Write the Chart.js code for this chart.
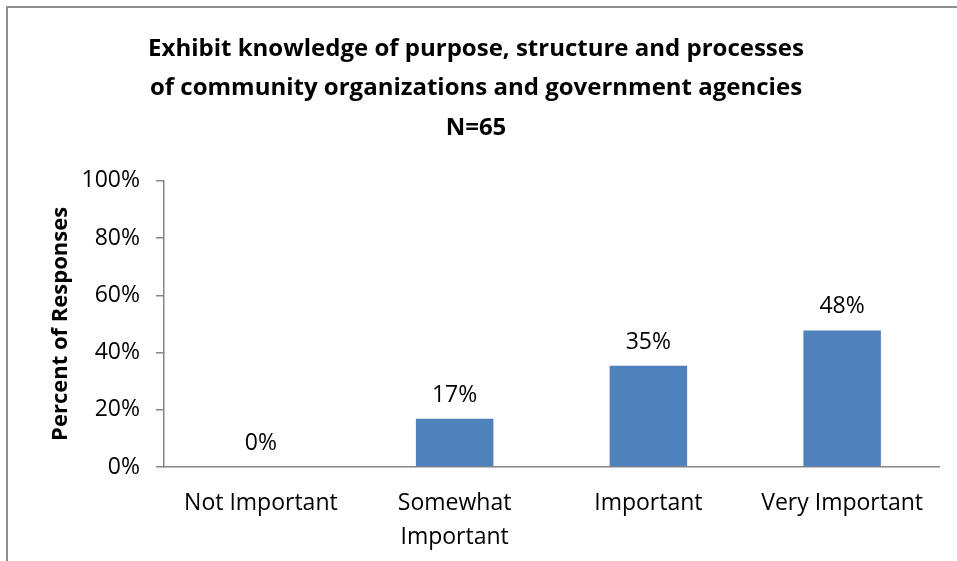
<!DOCTYPE html>
<html>
<head>
<meta charset="utf-8">
<script src="https://cdn.jsdelivr.net/npm/chart.js@4/dist/chart.umd.min.js"></script>
<style>
  html, body { margin: 0; padding: 0; background: #fff; overflow: hidden; }
  #wrap { position: relative; width: 957px; height: 561px; }
  #frame {
    position: absolute; left: 6px; top: 6px; width: 1000px; height: 600px;
    border: 2px solid #8e8e8e; box-sizing: border-box;
  }
  #grafico { position: absolute; left: 0; top: 0; }
</style>
</head>
<body>
<div id="wrap">
  <div id="frame"></div>
  <canvas id="grafico" width="957" height="561"></canvas>
</div>
<script>
const categories = ['Not Important', ['Somewhat', 'Important'], 'Important', 'Very Important'];
const percentValues = [0, 16.9, 35.4, 47.7];
const titleLines = [
  'Exhibit knowledge of purpose, structure and processes',
  'of community organizations and government agencies',
  'N=65'
];
const yAxisTitle = 'Percent of Responses';

let grafico;

// draws the value above each bar
const barLabels = {
  id: 'barLabels',
  afterDatasetsDraw(chart) {
    const ctx = chart.ctx;
    const meta = chart.getDatasetMeta(0);
    ctx.save();
    ctx.font = '23px "Open Sans"';
    ctx.fillStyle = '#000';
    ctx.textAlign = 'center';
    ctx.textBaseline = 'alphabetic';
    meta.data.forEach((bar, i) => {
      ctx.fillText(Math.round(percentValues[i]) + '%', bar.x, bar.y - 17);
    });
    ctx.restore();
  }
};

function carregarGrafico() {
  const ctx = document.getElementById('grafico').getContext('2d');
  if (grafico) {
    grafico.destroy();
  }

  grafico = new Chart(ctx, {
    type: 'bar',
    data: {
      labels: categories,
      datasets: [{
        data: percentValues,
        backgroundColor: '#4F81BD',
        borderWidth: 0,
        barPercentage: 0.4,
        categoryPercentage: 1
      }]
    },
    options: {
      responsive: false,
      animation: false,
      layout: { padding: { left: 13, right: 18, top: 0, bottom: 0 } },
      plugins: {
        legend: { display: false },
        tooltip: { enabled: false },
        title: {
          display: true,
          text: titleLines,
          color: '#000',
          font: { family: 'Open Sans', size: 24, weight: 'bold', lineHeight: 1.65 },
          padding: { top: 29, bottom: 33 }
        }
      },
      scales: {
        x: {
          grid: { display: false, drawTicks: false },
          border: { display: true, color: '#868686', width: 1.5 },
          ticks: {
            color: '#000',
            font: { family: 'Open Sans', size: 23, lineHeight: 1.5 },
            padding: 19,
            maxRotation: 0,
            autoSkip: false
          },
          afterFit(scale) { scale.height = 94; }
        },
        y: {
          min: 0,
          max: 100,
          grid: { display: true, drawOnChartArea: false, drawTicks: true, tickLength: 8, color: '#868686', lineWidth: 1.5 },
          border: { display: true, color: '#868686', width: 1.5 },
          ticks: {
            stepSize: 20,
            color: '#000',
            font: { family: 'Open Sans', size: 23 },
            padding: 16,
            callback: v => v + '%'
          },
          title: {
            display: true,
            text: yAxisTitle,
            color: '#000',
            font: { family: 'Open Sans', size: 22, weight: 'bold', lineHeight: 1.2 },
            padding: { top: 35, bottom: 0 }
          },
          afterFit(scale) { scale.width = 151; }
        }
      }
    },
    plugins: [barLabels]
  });
}

window.addEventListener('DOMContentLoaded', carregarGrafico);
</script>
</body>
</html>
